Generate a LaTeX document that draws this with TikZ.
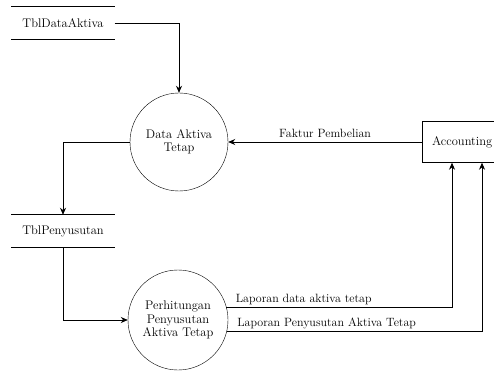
\documentclass[tikz,border=0pt]{standalone}
\usepackage{tikz}
\usetikzlibrary{arrows.meta,calc}

\begin{document}
\begin{tikzpicture}[
	x=1pt, y=-1pt,
	process/.style={circle, draw=black, minimum size=98pt, inner sep=0pt, align=center, font=\fontsize{12.5}{13.5}\selectfont},
	entity/.style={rectangle, draw=black, minimum height=41pt, minimum width=80pt, inner xsep=8pt, font=\fontsize{12.5}{14}\selectfont},
	store/.style={rectangle, minimum width=103pt, minimum height=32pt, font=\fontsize{12.5}{14}\selectfont},
	flow/.style={-{Stealth[length=7pt,width=6pt]}, line width=0.8pt},
	lbl/.style={font=\fontsize{12}{13}\selectfont, inner sep=1pt}
	]
	
	\useasboundingbox (0,0) rectangle (494,371);
	
	% data stores
	\node[store] (tbldata) at (63,23) {TblDataAktiva};
	\draw[line width=0.8pt] (tbldata.north west) -- (tbldata.north east);
	\draw[line width=0.8pt] (tbldata.south west) -- (tbldata.south east);
	
	\node[store] (tblsusut) at (63,231) {TblPenyusutan};
	\draw[line width=0.8pt] (tblsusut.north west) -- (tblsusut.north east);
	\draw[line width=0.8pt] (tblsusut.south west) -- (tblsusut.south east);
	
	% processes
	\node[process] (proc1) at (179,142) {Data Aktiva\\Tetap};
	\node[process, minimum size=100pt] (proc2) at (178,320) {Perhitungan\\Penyusutan\\Aktiva Tetap};
	
	% external entity
	\node[entity, anchor=west] (acc) at (422,142) {Accounting};
	
	% flows
	\draw[flow] (tbldata.east) -| (proc1.north);
	\draw[flow] (proc1.west) -| (tblsusut.north);
	\draw[flow] (tblsusut.south) |- (proc2.west);
	\draw[flow] (acc.west) -- node[lbl, above=3pt] {Faktur Pembelian} (proc1.east);
	\draw[flow] (proc2.15) -| node[lbl, pos=0, anchor=south west, xshift=8pt, yshift=1pt] {Laporan data aktiva tetap} ($(acc.south west)+(30,0)$);
	\draw[flow] (proc2.-13) -| node[lbl, pos=0, anchor=south west, xshift=9pt, yshift=1pt] {Laporan Penyusutan Aktiva Tetap} ($(acc.south west)+(60,0)$);
	
\end{tikzpicture}
\end{document}
